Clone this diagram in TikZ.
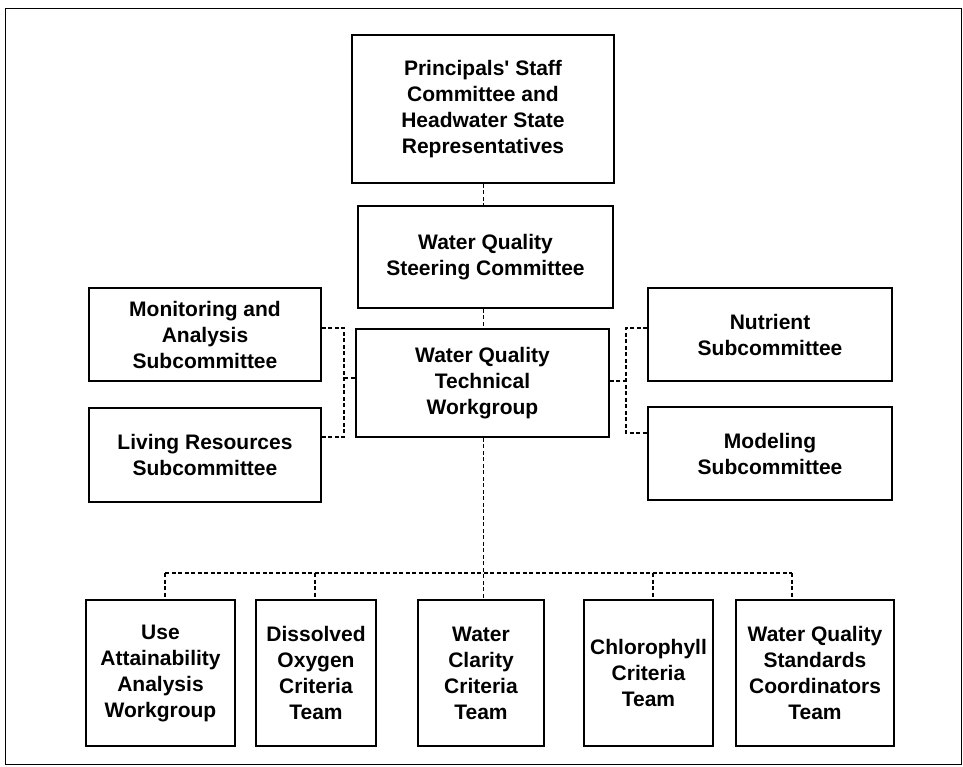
\documentclass[tikz,border=0pt]{standalone}
\usepackage{fontspec}
\setmainfont{Liberation Sans}
\begin{document}
\begin{tikzpicture}[x=1pt,y=-1pt,
  box/.style={draw, line width=1.7pt, inner sep=0pt, align=center,
    font=\bfseries\fontsize{21}{26}\selectfont},
  conn/.style={line width=1.3pt, dash pattern=on 4pt off 2.5pt}]
\useasboundingbox (0,0) rectangle (963,767);
\draw[line width=0.8pt] (5,8) rectangle (961,764);
% upper boxes
\node[box, minimum width=262pt, minimum height=148pt] (top) at (483,109)
  {Principals\textquotesingle{} Staff\\Committee and\\Headwater State\\Representatives};
\node[box, minimum width=255pt, minimum height=102pt] (steer) at (485.5,257)
  {Water Quality\\Steering Committee};
\node[box, minimum width=253pt, minimum height=108pt] (tech) at (482.5,383)
  {Water Quality\\Technical\\Workgroup};
\node[box, minimum width=232pt, minimum height=93pt] (mon) at (205,334.5)
  {Monitoring and\\Analysis\\Subcommittee};
\node[box, minimum width=232pt, minimum height=94pt] (liv) at (205,455)
  {Living Resources\\Subcommittee};
\node[box, minimum width=244pt, minimum height=93pt] (nut) at (770,334.5)
  {Nutrient\\Subcommittee};
\node[box, minimum width=244pt, minimum height=93pt] (mod) at (770,453.5)
  {Modeling\\Subcommittee};
% bottom boxes
\node[box, minimum width=149pt, minimum height=146pt] (use) at (160.5,673)
  {Use\\Attainability\\Analysis\\Workgroup};
\node[box, minimum width=120pt, minimum height=146pt] (dis) at (316,673)
  {Dissolved\\Oxygen\\Criteria\\Team};
\node[box, minimum width=126pt, minimum height=146pt] (wcl) at (481,673)
  {Water\\Clarity\\Criteria\\Team};
\node[box, minimum width=129pt, minimum height=146pt] (chl) at (648.5,673)
  {Chlorophyll\\Criteria\\Team};
\node[box, minimum width=158pt, minimum height=146pt] (wqs) at (815,673)
  {Water Quality\\Standards\\Coordinators\\Team};
% vertical spine
\coordinate (sx) at (483.5,0);
\draw[conn] (top.south -| sx) -- (steer.north -| sx);
\draw[conn] (steer.south -| sx) -- (tech.north -| sx);
\draw[conn] (tech.south -| sx) -- (wcl.north -| sx);
% left bracket
\coordinate (lt) at (344,328);
\coordinate (lm) at (344,378);
\coordinate (lb) at (344,437);
\draw[conn] (lt -| mon.east) -- (lt) -- (lb) -- (lb -| liv.east);
\draw[conn] (lm) -- (lm -| tech.west);
% right bracket
\coordinate (rt) at (626,328);
\coordinate (rm) at (626,381);
\coordinate (rb) at (626,433);
\draw[conn] (rt -| nut.west) -- (rt) -- (rb) -- (rb -| mod.west);
\draw[conn] (rm -| tech.east) -- (rm);
% bus to teams
\coordinate (busL) at (165,573);
\coordinate (busD) at (315,573);
\coordinate (busC) at (653,573);
\coordinate (busR) at (792,573);
\draw[conn] (busL) -- (busR);
\draw[conn] (busL) -- (busL |- use.north);
\draw[conn] (busD) -- (busD |- dis.north);
\draw[conn] (busC) -- (busC |- chl.north);
\draw[conn] (busR) -- (busR |- wqs.north);
\end{tikzpicture}
\end{document}
